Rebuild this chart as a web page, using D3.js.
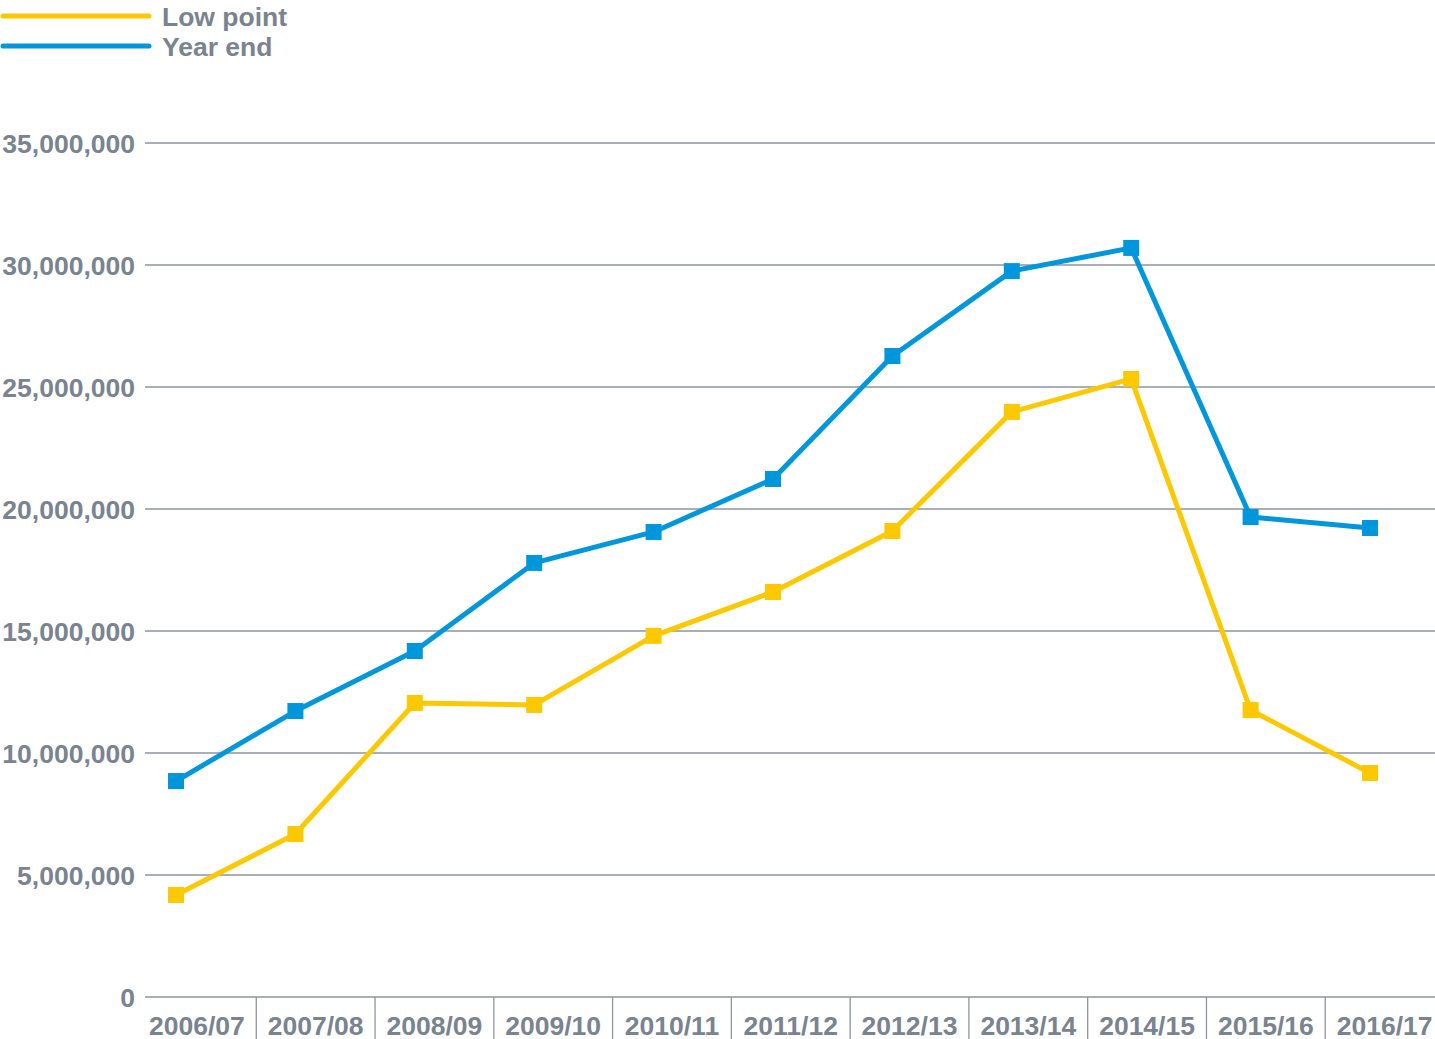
<!DOCTYPE html>
<html><head><meta charset="utf-8">
<script src="https://cdn.jsdelivr.net/npm/d3@7"></script>
<style>body{margin:0;background:#fff}svg{display:block}</style>
</head><body>
<script>
const categories = ["2006/07","2007/08","2008/09","2009/10","2010/11","2011/12","2012/13","2013/14","2014/15","2015/16","2016/17"];
const lowPoint = [4180000,6680000,12050000,11970000,14800000,16600000,19100000,23980000,25330000,11760000,9180000];
const yearEnd = [8850000,11720000,14180000,17790000,19060000,21230000,26270000,29750000,30700000,19670000,19220000];
const yTicks = [0,5000000,10000000,15000000,20000000,25000000,30000000,35000000];
const seriesNames = ["Low point","Year end"];
const colors = ["#fcc800","#0096db"];

const W=1435,H=1039;
const textColor="#7a8390", gridColor="#8e959f";
const font="'Liberation Sans', Arial, sans-serif";
const fs=26.5;
const svg=d3.select("body").append("svg").attr("width",W).attr("height",H);

const y=d3.scaleLinear().domain([0,35000000]).range([997,143]);
const band=d3.scaleBand().domain(categories).range([137.5,1444]);
const xp=d3.scalePoint().domain(categories).range([176,1370]);

// gridlines
svg.append("g").selectAll("line").data(yTicks).join("line")
  .attr("x1",145).attr("x2",1435).attr("y1",d=>y(d)).attr("y2",d=>y(d))
  .attr("stroke",gridColor).attr("stroke-width",1.3);
// y labels
const fmt=d3.format(",");
svg.append("g").selectAll("text").data(yTicks).join("text")
  .attr("x",135).attr("y",d=>y(d)+9.5).attr("text-anchor","end")
  .attr("font-family",font).attr("font-weight","bold").attr("font-size",fs)
  .attr("fill",textColor).text(d=>fmt(d));
// category separators
svg.append("g").selectAll("line").data(categories.slice(1)).join("line")
  .attr("x1",d=>band(d)).attr("x2",d=>band(d)).attr("y1",997).attr("y2",H)
  .attr("stroke",gridColor).attr("stroke-width",1.3);
// category labels
svg.append("g").selectAll("text").data(categories).join("text")
  .attr("x",d=>band(d)+band.bandwidth()/2).attr("y",1035).attr("text-anchor","middle")
  .attr("font-family",font).attr("font-weight","bold").attr("font-size",fs)
  .attr("fill",textColor).text(d=>d);

const line=d3.line().x((d,i)=>xp(categories[i])).y(d=>y(d));
[lowPoint,yearEnd].forEach((s,k)=>{
  svg.append("path").datum(s).attr("d",line).attr("fill","none")
    .attr("stroke",colors[k]).attr("stroke-width",5).attr("stroke-linejoin","round");
  svg.append("g").selectAll("rect").data(s).join("rect")
    .attr("x",(d,i)=>xp(categories[i])-8).attr("y",d=>y(d)-8)
    .attr("width",16).attr("height",16).attr("fill",colors[k]);
});

// legend
const legY=[16,46];
seriesNames.forEach((n,k)=>{
  svg.append("line").attr("x1",3).attr("x2",149).attr("y1",legY[k]).attr("y2",legY[k])
    .attr("stroke",colors[k]).attr("stroke-width",5).attr("stroke-linecap","round");
  svg.append("text").attr("x",162).attr("y",legY[k]+10)
    .attr("font-family",font).attr("font-weight","bold").attr("font-size",fs)
    .attr("fill",textColor).text(n);
});
</script>
</body></html>
